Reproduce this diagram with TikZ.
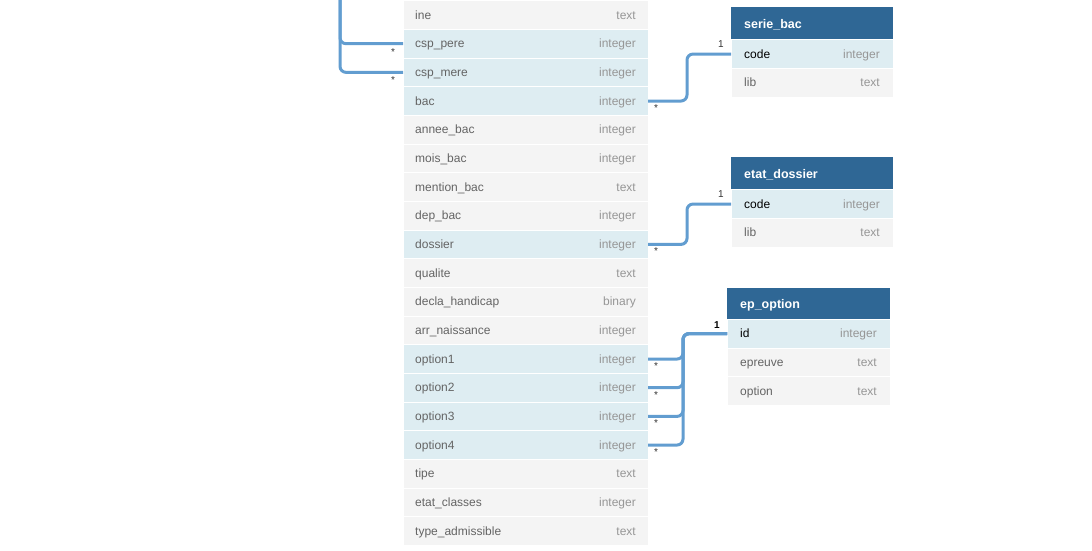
\documentclass[tikz,border=0pt]{standalone}
\usepackage{fontspec}
\setmainfont{Liberation Sans}
\usepackage{xcolor}
\usepackage{tikz}
\usetikzlibrary{positioning}

\definecolor{rowgray}{RGB}{244,244,244}
\definecolor{rowblue}{RGB}{222,237,242}
\definecolor{headblue}{RGB}{47,103,149}
\definecolor{linkblue}{RGB}{98,157,208}
\definecolor{namegray}{RGB}{100,100,100}
\definecolor{typegray}{RGB}{150,150,150}

\tikzset{
  row/.style={rectangle, draw=white, line width=0.6pt, outer sep=0pt,
    inner sep=0pt, minimum height=28.67pt},
  headrow/.style={rectangle, fill=headblue, outer sep=0pt, inner sep=0pt,
    minimum height=32.4pt},
  fname/.style={anchor=west, inner sep=0pt, text=namegray, yshift=-1pt,
    text height=8.8pt, text depth=2.6pt, font=\fontsize{12}{14}\selectfont},
  fkey/.style={fname, text=black},
  ftype/.style={anchor=east, inner sep=0pt, text=typegray, yshift=-1pt,
    text height=8.8pt, text depth=2.6pt, font=\fontsize{12}{14}\selectfont},
  hname/.style={anchor=west, inner sep=0pt, text=white, yshift=-1.5pt,
    text height=9pt, text depth=2.7pt, font=\fontsize{12.5}{14}\selectfont\bfseries},
  link/.style={linkblue, line width=3pt, rounded corners=6pt},
  card/.style={inner sep=0pt, text=black!80, font=\fontsize{10}{11}\selectfont}
}

\begin{document}
\begin{tikzpicture}[x=1pt, y=-1pt]
    \useasboundingbox (0,0) rectangle (1092,550);

    % Main table (header is above the visible part)
    \foreach \id/\fld/\typ/\col [count=\i from 0] in {
        ine/ine/text/rowgray,
        csppere/csp\_pere/integer/rowblue,
        cspmere/csp\_mere/integer/rowblue,
        bac/bac/integer/rowblue,
        anneebac/annee\_bac/integer/rowgray,
        moisbac/mois\_bac/integer/rowgray,
        mentionbac/mention\_bac/text/rowgray,
        depbac/dep\_bac/integer/rowgray,
        dossier/dossier/integer/rowblue,
        qualite/qualite/text/rowgray,
        declahandicap/decla\_handicap/binary/rowgray,
        arrnaissance/arr\_naissance/integer/rowgray,
        optionA/option1/integer/rowblue,
        optionB/option2/integer/rowblue,
        optionC/option3/integer/rowblue,
        optionD/option4/integer/rowblue,
        tipe/tipe/text/rowgray,
        etatclasses/etat\_classes/integer/rowgray,
        typeadmissible/type\_admissible/text/rowgray} {
        \node[row, fill=\col, minimum width=245pt, anchor=north west]
            (\id) at (403, {0.67+28.67*\i}) {};
        \node[fname] (\id name) at ([xshift=12pt]\id.west) {\fld};
        \node[ftype] (\id type) at ([xshift=-12pt]\id.east) {\typ};
    }

    % serie_bac
    \node[headrow, minimum width=162pt, anchor=north west] (seriebac) at (731,7.3) {};
    \node[hname] (seriebachead) at ([xshift=13pt]seriebac.west) {serie\_bac};
    \node[row, fill=rowblue, minimum width=162pt, below=0pt of seriebac] (seriecode) {};
    \node[fkey] (seriecodename) at ([xshift=13pt]seriecode.west) {code};
    \node[ftype] (seriecodetype) at ([xshift=-13pt]seriecode.east) {integer};
    \node[row, fill=rowgray, minimum width=162pt, below=0pt of seriecode] (serielib) {};
    \node[fname] (serielibname) at ([xshift=13pt]serielib.west) {lib};
    \node[ftype] (serielibtype) at ([xshift=-13pt]serielib.east) {text};

    % etat_dossier
    \node[headrow, minimum width=162pt, anchor=north west] (etatdossier) at (731,157.3) {};
    \node[hname] (etatdossierhead) at ([xshift=13pt]etatdossier.west) {etat\_dossier};
    \node[row, fill=rowblue, minimum width=162pt, below=0pt of etatdossier] (etatcode) {};
    \node[fkey] (etatcodename) at ([xshift=13pt]etatcode.west) {code};
    \node[ftype] (etatcodetype) at ([xshift=-13pt]etatcode.east) {integer};
    \node[row, fill=rowgray, minimum width=162pt, below=0pt of etatcode] (etatlib) {};
    \node[fname] (etatlibname) at ([xshift=13pt]etatlib.west) {lib};
    \node[ftype] (etatlibtype) at ([xshift=-13pt]etatlib.east) {text};

    % ep_option
    \node[headrow, minimum width=163pt, minimum height=31pt, anchor=north west] (epoption) at (727,288.3) {};
    \node[hname] (epoptionhead) at ([xshift=13pt]epoption.west) {ep\_option};
    \node[row, fill=rowblue, minimum width=163pt, below=0pt of epoption] (epid) {};
    \node[fkey] (epidname) at ([xshift=13pt]epid.west) {id};
    \node[ftype] (epidtype) at ([xshift=-13pt]epid.east) {integer};
    \node[row, fill=rowgray, minimum width=163pt, below=0pt of epid] (epepreuve) {};
    \node[fname] (epepreuvename) at ([xshift=13pt]epepreuve.west) {epreuve};
    \node[ftype] (epepreuvetype) at ([xshift=-13pt]epepreuve.east) {text};
    \node[row, fill=rowgray, minimum width=163pt, below=0pt of epepreuve] (epopt) {};
    \node[fname] (epoptname) at ([xshift=13pt]epopt.west) {option};
    \node[ftype] (epopttype) at ([xshift=-13pt]epopt.east) {text};

    % Draw links
    \coordinate (cspsrc) at (340,0);
    \draw[link] (cspsrc) |- (csppere.west);
    \draw[link] (cspsrc) |- (cspmere.west);
    \draw[link] (bac.east) -- ++(39,0) |- (seriecode.west);
    \draw[link] (dossier.east) -- ++(39,0) |- (etatcode.west);
    \foreach \o in {optionA, optionB, optionC, optionD}
        \draw[link] (\o.east) -- ++(35,0) |- (epid.west);

    % Cardinalities
    \node[card] (csppereN) at ([shift={(-10,8)}]csppere.west) {*};
    \node[card] (cspmereN) at ([shift={(-10,8)}]cspmere.west) {*};
    \node[card] (bacN) at ([shift={(8,7)}]bac.east) {*};
    \node[card] (serieone) at ([shift={(-10,-10)}]seriecode.west) {1};
    \node[card] (dossierN) at ([shift={(8,7)}]dossier.east) {*};
    \node[card] (etatone) at ([shift={(-10,-10)}]etatcode.west) {1};
    \foreach \o in {optionA, optionB, optionC, optionD}
        \node[card] (\o N) at ([shift={(8,7)}]\o.east) {*};
    \node[card, font=\fontsize{10}{11}\selectfont\bfseries, text=black] (epone)
        at ([shift={(-10,-9)}]epid.west) {1};
\end{tikzpicture}
\end{document}
